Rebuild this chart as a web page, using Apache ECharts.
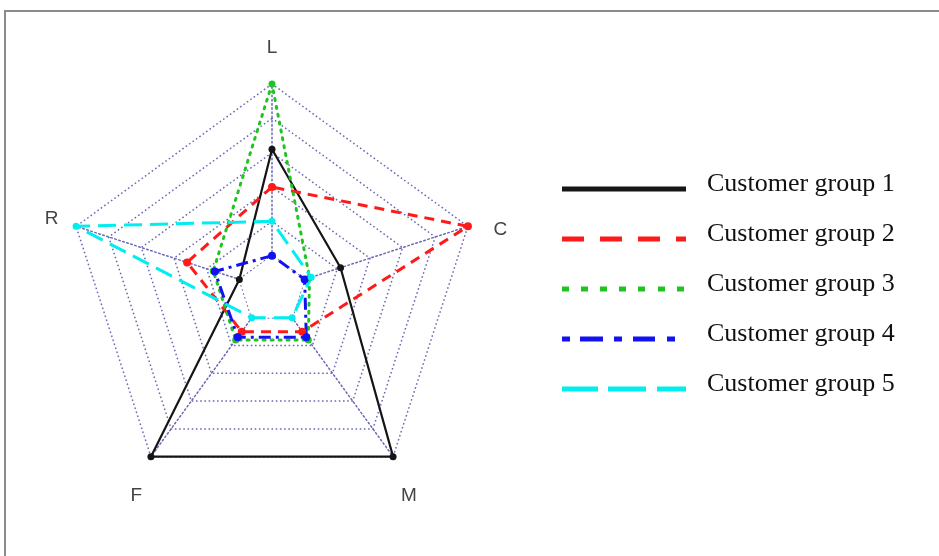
<!DOCTYPE html>
<html><head><meta charset="utf-8">
<script src="https://cdn.jsdelivr.net/npm/echarts@6/dist/echarts.min.js"></script>
<style>
html,body{margin:0;padding:0;background:#fff;overflow:hidden;}
#frame{position:absolute;left:4px;top:10px;width:933px;height:544px;border-top:2px solid #8a8a8a;border-left:2px solid #8a8a8a;}
#chart{position:absolute;left:0;top:0;width:939px;height:556px;}
</style></head><body>
<div id="frame"></div>
<div id="chart"></div>
<script>
// Indicators in ECharts (counter-clockwise) order starting at top
const categories = ['L', 'R', 'F', 'M', 'C'];
const axisMin = -1, axisMax = 5;
const innerRing = [0, 0, 0, 0, 0];
const group1 = [3.1, 0, 5, 5, 1.1];
const group2 = [2, 1.6, 0.5, 0.5, 5];
const group3 = [5, 0.8, 0.8, 0.8, 0.15];
const group4 = [0, 0.75, 0.7, 0.7, 0];
const group5 = [1, 5, 0, 0, 0.2];
const seriesNames = ['Customer group 1', 'Customer group 2', 'Customer group 3', 'Customer group 4', 'Customer group 5'];

const gridColor = '#6a6ab4';
const gridLine = { color: gridColor, width: 1.5, type: [1.6, 2.6] };

const icons = [
  'path://M0,0h124v5h-124z',
  'path://M0,0h22v5h-22z M38,0h22v5h-22z M76,0h22v5h-22z M114,0h10v5h-10z',
  'path://M124,5 M0,0h7v5h-7z M19,0h7v5h-7z M38,0h7v5h-7z M57,0h7v5h-7z M76,0h7v5h-7z M96,0h7v5h-7z M115,0h7v5h-7z',
  'path://M124,5 M0,0h8v5h-8z M18,0h23v5h-23z M52,0h8v5h-8z M71,0h22v5h-22z M105,0h8v5h-8z',
  'path://M0,0h36v5h-36z M46,0h38v5h-38z M95,0h29v5h-29z'
];

function mk(name, values, color, lineStyle, symbolSize) {
  return {
    type: 'radar', name: name, z: 3, symbol: 'circle', symbolSize: symbolSize,
    itemStyle: { color: color, borderWidth: 0 },
    lineStyle: Object.assign({ color: color }, lineStyle),
    data: [{ name: name, value: values }]
  };
}

const richBase = { fontSize: 19, fontFamily: 'Liberation Sans', color: '#444', lineHeight: 19 };
const chart = echarts.init(document.getElementById('chart'));
chart.setOption({
  animation: false,
  radar: {
    center: [272, 290], radius: 206, startAngle: 90, splitNumber: 6, shape: 'polygon', z: 1,
    indicator: categories.map(n => ({ name: n, min: axisMin, max: axisMax })),
    nameGap: 10,
    axisName: {
      formatter: n => '{' + n + '|' + n + '}',
      fontSize: 19, fontFamily: 'Liberation Sans', color: '#444',
      rich: {
        L: Object.assign({ padding: [0, 0, 34, 0] }, richBase),
        C: Object.assign({ padding: [13, 0, 0, 16] }, richBase),
        M: Object.assign({ padding: [62, 0, 0, 2] }, richBase),
        F: Object.assign({ padding: [62, 3, 0, 0] }, richBase),
        R: Object.assign({ padding: [0, 8, 9, 0] }, richBase)
      }
    },
    splitLine: { lineStyle: gridLine },
    splitArea: { show: false },
    axisLine: { lineStyle: gridLine },
    axisTick: { show: false },
    axisLabel: { show: false }
  },
  legend: {
    orient: 'vertical', left: 562, top: 171, padding: 0,
    itemWidth: 124, itemHeight: 5, itemGap: 14, selectedMode: false,
    itemStyle: { borderWidth: 0 },
    formatter: n => '{t|' + n + '}',
    textStyle: {
      fontSize: 26, fontFamily: 'Liberation Serif', color: '#111', lineHeight: 26,
      rich: { t: { fontSize: 26, fontFamily: 'Liberation Serif', color: '#111', lineHeight: 26, padding: [0, 0, 10, 16] } }
    },
    data: seriesNames.map((n, i) => ({ name: n, icon: icons[i] }))
  },
  series: [
    {
      type: 'radar', name: 'inner', z: 2, symbol: 'none', silent: true,
      lineStyle: gridLine, areaStyle: { color: '#ffffff', opacity: 1 },
      data: [{ name: 'inner', value: innerRing }]
    },
    mk(seriesNames[0], group1, '#151515', { width: 2.2, type: 'solid' }, 7),
    mk(seriesNames[1], group2, '#ff1a1a', { width: 3, type: [10, 7] }, 8),
    mk(seriesNames[2], group3, '#20c420', { width: 3, type: [2, 6], cap: 'round' }, 7),
    mk(seriesNames[3], group4, '#1212f0', { width: 3, type: [12, 5, 3, 5] }, 8),
    mk(seriesNames[4], group5, '#00eef0', { width: 3, type: [18, 8] }, 7)
  ]
});
</script>
</body></html>
